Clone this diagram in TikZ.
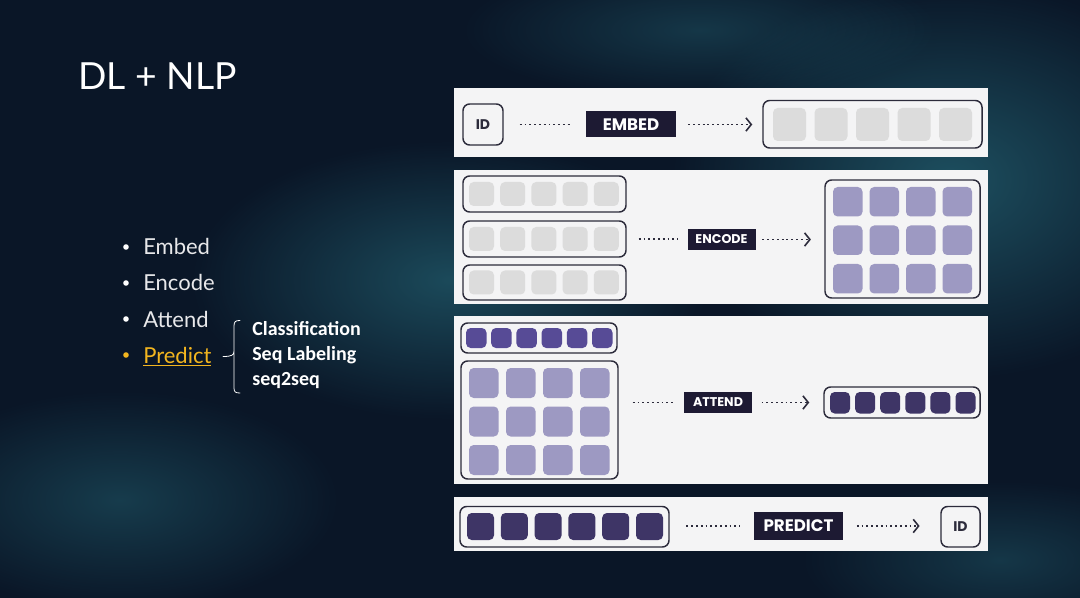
\documentclass[tikz,border=0pt]{standalone}
\usepackage{fontspec}
\setmainfont{Lato}
\newfontfamily\calib{Carlito}
\newfontfamily\pop{Poppins}
\usetikzlibrary{arrows.meta,fit,fadings,calc}
\tikzfading[name=myfade, inner color=transparent!0, outer color=transparent!100]
\definecolor{bgc}{HTML}{0A1627}
\definecolor{glow}{HTML}{2A7585}
\definecolor{panelbg}{HTML}{F4F4F5}
\definecolor{strokec}{HTML}{2C2B3B}
\definecolor{lightcell}{HTML}{DCDCDC}
\definecolor{lavcell}{HTML}{9D99C2}
\definecolor{midcell}{HTML}{574B96}
\definecolor{darkcell}{HTML}{3E3566}
\definecolor{labbg}{HTML}{1D1A33}
\definecolor{yel}{HTML}{F2B51F}
\definecolor{txt}{HTML}{E8E8EA}
\begin{document}
\begin{tikzpicture}[x=0.75pt,y=-0.75pt,
  panel/.style={fill=panelbg,draw=none,inner sep=0pt},
  cont/.style={draw=strokec,line width=1.1pt,rounded corners=5pt,fill=panelbg,inner sep=0pt},
  idbox/.style={draw=strokec,line width=1.1pt,rounded corners=5pt,fill=panelbg,inner sep=0pt},
  idtxt/.style={font=\pop\bfseries\fontsize{10.5}{11}\selectfont,text=strokec},
  lab/.style={fill=labbg,text=white,inner sep=0pt,font=\pop\bfseries},
  dots/.style={draw=strokec,line width=1.4pt,dash pattern=on 1.4pt off 2.2pt},
  arr/.style={dots,-{Straight Barb[length=4pt,width=10pt,line width=1.2pt]}},
  cellL/.style={fill=lightcell,rounded corners=3.5pt},
  cellV/.style={fill=lavcell,rounded corners=3.5pt},
  cellM/.style={fill=midcell,rounded corners=3.5pt},
  cellD/.style={fill=darkcell,rounded corners=3.5pt},
  bul/.style={anchor=base west,font=\fontsize{16.5}{18}\selectfont,text=txt,inner sep=0pt},
  sub/.style={anchor=base west,font=\calib\bfseries\fontsize{15}{17}\selectfont,text=white,inner sep=0pt}
]
\useasboundingbox (0,0) rectangle (1080,598);
\fill[bgc] (0,0) rectangle (1080,598);
% nebula glow
\fill[glow,path fading=myfade,opacity=0.6] (950,180) ellipse [x radius=280,y radius=200];
\fill[glow,path fading=myfade,opacity=0.55] (450,280) ellipse [x radius=260,y radius=140];
\fill[glow,path fading=myfade,opacity=0.4] (120,500) ellipse [x radius=220,y radius=110];
\fill[glow,path fading=myfade,opacity=0.35] (700,30) ellipse [x radius=240,y radius=70];
\fill[glow,path fading=myfade,opacity=0.35] (1000,560) ellipse [x radius=200,y radius=80];

% title and bullets
\node[anchor=base west,inner sep=0pt,text=white,font=\fontsize{28}{32}\selectfont] (title) at (78,90) {DL + NLP};
\foreach \yy in {255,291,327}{
  \fill[white] (126,\yy-8) circle (2.8);
}
\node[bul] (b1) at (143,255) {Embed};
\node[bul] (b2) at (143,291) {Encode};
\node[bul] (b3) at (143,327) {Attend};
\fill[yel] (126,355) circle (2.8);
\node[bul,text=yel] (b4) at (143,363) {\underline{Predict}};
\draw[white,line width=0.6pt,line cap=round] (240,320.5) .. controls (235.5,320.5) and (234,321.5) .. (234,326) -- (234,351)
  .. controls (234,355) and (232,356.5) .. (223,356.5)
  (234,351) -- (234,388) .. controls (234,392) and (235.5,393) .. (240,393);
\node[sub] (s1) at (252,335) {Classification};
\node[sub] (s2) at (252,360) {Seq Labeling};
\node[sub] (s3) at (252,385) {seq2seq};

% panels
\node[panel,fit={(454,88)(988,157)}] (p1) {};
\node[panel,fit={(454,170)(988,304)}] (p2) {};
\node[panel,fit={(454,316)(988,484)}] (p3) {};
\node[panel,fit={(454,497)(988,551)}] (p4) {};

% ---- panel 1
\node[idbox,fit={(463,104)(503,145)}] (id1) {};
\node[idtxt] at (id1) {ID};
\node[lab,minimum width=67.5pt,minimum height=19.5pt,font=\pop\bfseries\fontsize{12.5}{13}\selectfont] (embed) at (631,124.5) {EMBED};
\node[cont,fit={(763,100.5)(982,148)}] (emb) {};
\foreach \i in {0,...,4}{\fill[cellL] (773+\i*41.5,108) rectangle ++(33,33);}
\draw[dots,shorten <=12pt,shorten >=10.5pt] (id1.east) -- (id1.east -| embed.west);
\draw[arr,shorten <=9pt,shorten >=7.5pt] (embed.east) -- (embed.east -| emb.west);

% ---- panel 2
\node[cont,fit={(463,176)(626,212)}] (r1) {};
\node[cont,fit={(463,221)(626,257)}] (r2) {};
\node[cont,fit={(463,265)(626,300)}] (r3) {};
\foreach \yy in {182,227,270.5}{
  \foreach \i in {0,...,4}{\fill[cellL] (469+\i*31.2,\yy) rectangle ++(25,24);}
}
\node[lab,minimum width=51pt,minimum height=16pt,font=\pop\bfseries\fontsize{9.5}{10}\selectfont] (encode) at (721.5,239.5) {ENCODE};
\node[cont,fit={(825,180)(980,298)}] (grid2) {};
\foreach \r in {0,1,2}{\foreach \i in {0,...,3}{\fill[cellV] (833+\i*36.5,187+\r*38.5) rectangle ++(29.5,29.5);}}
\draw[dots,shorten <=9pt,shorten >=7pt] (r2.east) -- (r2.east -| encode.west);
\draw[arr,shorten <=5pt,shorten >=10pt] (encode.east) -- (encode.east -| grid2.west);

% ---- panel 3
\node[cont,fit={(461,323)(617,353)}] (q3) {};
\foreach \i in {0,...,5}{\fill[cellM] (466+\i*25.2,328) rectangle ++(20.5,20);}
\node[cont,fit={(461,361)(618,479)}] (grid3) {};
\foreach \r in {0,1,2}{\foreach \i in {0,...,3}{\fill[cellV] (469+\i*37,368+\r*38.5) rectangle ++(29.5,30);}}
\node[lab,minimum width=51pt,minimum height=16pt,font=\pop\bfseries\fontsize{9.5}{10}\selectfont] (attend) at (718,402.5) {ATTEND};
\node[cont,fit={(824,387)(980,418)}] (out3) {};
\foreach \i in {0,...,5}{\fill[cellD] (830+\i*25.1,392) rectangle ++(20,21.5);}
\draw[dots,shorten <=10.5pt,shorten >=7.5pt] (grid3.east |- attend.west) -- (attend.west);
\draw[arr,shorten <=7pt,shorten >=10.5pt] (attend.east) -- (attend.east -| out3.west);

% ---- panel 4
\node[cont,fit={(460,506.5)(669,547)}] (seq4) {};
\foreach \i in {0,...,5}{\fill[cellD] (467+\i*33.8,513) rectangle ++(27,27);}
\node[lab,minimum width=67pt,minimum height=21pt,font=\pop\bfseries\fontsize{12.5}{13}\selectfont] (predict) at (798.5,526) {PREDICT};
\node[idbox,fit={(941,506.5)(980,547)}] (id4) {};
\node[idtxt] at (id4) {ID};
\draw[dots,shorten <=12.5pt,shorten >=10pt] (seq4.east |- predict.west) -- (predict.west);
\draw[arr,shorten <=10pt,shorten >=15.5pt] (predict.east) -- (predict.east -| id4.west);
\end{tikzpicture}
\end{document}
